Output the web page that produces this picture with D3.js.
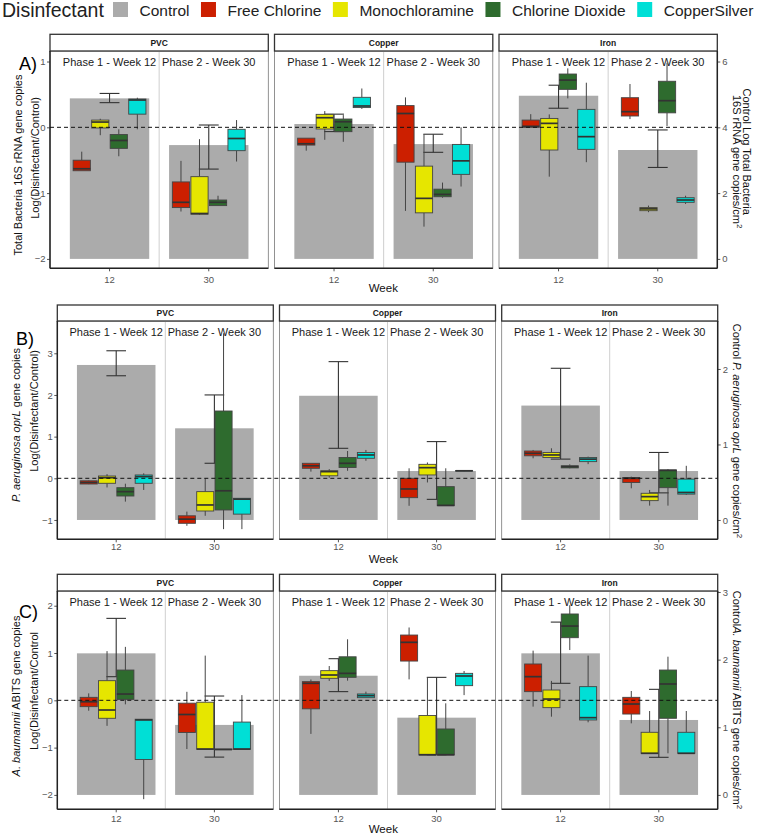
<!DOCTYPE html>
<html><head><meta charset="utf-8">
<script src="https://cdn.jsdelivr.net/npm/d3@7"></script>
<style>
body{margin:0;background:#fff}
svg{display:block}
text{font-family:"Liberation Sans",Arial,sans-serif}
</style>
</head><body>
<svg id="c" width="758" height="836"></svg>
<script>
// ---------------- data ----------------
const materials = ["PVC", "Copper", "Iron"];
const weeks = ["12", "30"];
const phaseLabels = ["Phase 1 - Week 12", "Phase 2 - Week 30"];
const disinfectants = ["Free Chlorine", "Monochloramine", "Chlorine Dioxide", "CopperSilver"];
const legendTitle = "Disinfectant";
const legendLabels = ["Control", "Free Chlorine", "Monochloramine", "Chlorine Dioxide", "CopperSilver"];
const fillColors = ["#ababab", "#cc1f00", "#e6e600", "#2e6b2e", "#00dfd6"];
const panelLetters = ["A)", "B)", "C)"];
const xTitle = "Week";

// Control (right axis units): [mean, lower, upper] per material, per week
const controlA = [
  [[4.88, 4.75, 5.03], [3.46, 2.73, 4.07]],
  [[4.10, 3.87, 4.40], [3.49, 3.24, 3.79]],
  [[4.96, 4.58, 5.28], [3.31, 2.78, 3.92]]
];
const controlB = [
  [[2.053, 1.910, 2.241], [1.214, 0.751, 1.656]],
  [[1.645, 0.949, 2.097], [0.648, 0.273, 1.038]],
  [[1.515, 0.806, 2.009], [0.648, 0.359, 0.894]]
];
const controlC = [
  [[2.093, 1.748, 2.610], [1.035, 0.559, 1.462]],
  [[1.762, 1.527, 2.014], [1.142, 0.594, 1.738]],
  [[2.093, 1.650, 2.555], [1.108, 0.556, 1.561]]
];

// Boxplots Log(Disinfectant/Control): [min, q1, median, q3, max]
// order: material -> week -> disinfectant
const boxesA = [
  [ // PVC
    [[-0.66,-0.66,-0.63,-0.50,-0.37], [-0.12,-0.01,0.08,0.11,0.13], [-0.44,-0.32,-0.20,-0.11,-0.03], [-0.03,0.20,0.415,0.43,0.45]],
    [[-1.28,-1.22,-1.14,-0.83,-0.51], [-1.33,-1.32,-1.31,-0.75,-0.18], [-1.19,-1.19,-1.14,-1.105,-1.04], [-0.52,-0.355,-0.17,-0.03,0.11]]
  ],
  [ // Copper
    [[-0.355,-0.27,-0.25,-0.165,-0.165], [-0.19,-0.026,0.146,0.197,0.247], [-0.22,-0.066,0.085,0.126,0.186], [0.28,0.30,0.324,0.456,0.59]],
    [[-1.27,-0.53,0.21,0.33,0.455], [-1.51,-1.30,-1.08,-0.59,-0.107], [-1.07,-1.055,-1.02,-0.94,-0.84], [-0.90,-0.715,-0.51,-0.26,0.0]]
  ],
  [ // Iron
    [[0.0,0.0,0.015,0.11,0.20], [-0.75,-0.345,0.06,0.135,0.196], [0.44,0.577,0.718,0.81,0.896], [-0.53,-0.335,-0.142,0.273,0.678]],
    [[0.125,0.172,0.238,0.45,0.658], [-1.29,-1.267,-1.24,-1.22,-1.19], [0.02,0.22,0.405,0.70,0.98], [-1.165,-1.14,-1.105,-1.07,-1.04]]
  ]
];
const boxesB = [
  [
    [[-0.14,-0.137,-0.10,-0.06,-0.05], [-0.22,-0.12,0.015,0.055,0.10], [-0.56,-0.425,-0.32,-0.225,-0.13], [-0.28,-0.12,0.04,0.08,0.12]],
    [[-1.14,-1.08,-0.98,-0.90,-0.80], [-0.90,-0.785,-0.64,-0.32,0.0], [-1.22,-0.76,-0.30,1.615,3.48], [-1.22,-0.86,-0.50,-0.48,-0.48]]
  ],
  [
    [[0.16,0.24,0.30,0.36,0.36], [0.015,0.06,0.16,0.18,0.22], [0.18,0.26,0.36,0.50,0.655], [0.42,0.48,0.56,0.62,0.68]],
    [[-0.66,-0.465,-0.256,0.0,0.24], [-0.10,0.08,0.255,0.335,0.38], [-0.656,-0.656,-0.65,-0.20,0.24], [0.17,0.175,0.18,0.185,0.19]]
  ],
  [
    [[0.48,0.54,0.60,0.655,0.68], [0.50,0.50,0.56,0.62,0.72], [0.24,0.25,0.28,0.30,0.335], [0.34,0.40,0.46,0.50,0.52]],
    [[-0.24,-0.10,0.0,0.02,0.04], [-0.656,-0.536,-0.44,-0.36,-0.28], [-0.656,-0.225,0.19,0.20,0.22], [-0.40,-0.38,-0.34,-0.02,0.30]]
  ]
];
const boxesC = [
  [
    [[-0.22,-0.134,-0.03,0.063,0.147], [-0.54,-0.38,-0.205,0.415,1.04], [-0.085,0.02,0.133,0.64,1.13], [-2.09,-1.25,-0.415,-0.40,-0.40]],
    [[-1.03,-0.68,-0.30,-0.06,0.18], [-1.035,-1.035,-1.03,-0.04,0.945], [-1.04,-1.04,-1.04,-1.03,-1.03], [-1.035,-1.035,-1.03,-0.46,0.11]]
  ],
  [
    [[-0.71,-0.18,0.36,0.395,0.44], [0.41,0.465,0.535,0.627,0.725], [0.415,0.486,0.57,0.92,1.29], [0.056,0.056,0.098,0.134,0.183]],
    [[0.443,0.83,1.226,1.38,1.54], [-1.155,-1.155,-1.15,-0.32,0.486], [-1.155,-1.155,-1.15,-0.606,-0.064], [0.11,0.31,0.514,0.57,0.62]]
  ],
  [
    [[-0.134,0.183,0.50,0.768,1.05], [-0.346,-0.155,0.027,0.218,0.41], [1.063,1.324,1.57,1.825,2.01], [-0.465,-0.416,-0.367,0.289,0.945]],
    [[-0.487,-0.29,-0.078,0.063,0.197], [-1.12,-1.12,-1.12,-0.676,-0.226], [-1.12,-0.38,0.345,0.64,0.922], [-1.12,-1.12,-1.12,-0.676,-0.226]]
  ]
];

const leftTicksA = [-2, -1, 0, 1], rightTicksA = [0, 2, 4, 6];
const leftTicksB = [-1, 0, 1, 2, 3], rightTicksB = [0, 1, 2];
const leftTicksC = [-2, -1, 0, 1, 2], rightTicksC = [0, 1, 2, 3];

// axis titles as [text, style] segments (n = normal, i = italic, s = superscript)
const leftTitleA = [[["Total Bacteria 16S rRNA gene copies","n"]], [["Log(Disinfectant/Control)","n"]]];
const rightTitleA = [[["Control Log Total Bacteria","n"]], [["16S rRNA gene copies/cm","n"],["2","s"]]];
const leftTitleB = [[["P. aeruginosa oprL","i"],[" gene copies","n"]], [["Log(Disinfectant/Control)","n"]]];
const rightTitleB = [[["Control ","n"],["P. aeruginosa oprL","i"],[" gene copies/cm","n"],["2","s"]]];
const leftTitleC = [[["A. baumannii","i"],[" ABITS gene copies","n"]], [["Log(Disinfectant/Control","n"]]];
const rightTitleC = [[["Control","n"],["A. baumannii","i"],[" ABITS gene copies/cm","n"],["2","s"]]];

// ---------------- layout ----------------
const svg = d3.select("#c");
const DARK = "#333333";

const figs = [
  { letter: panelLetters[0], letterPos: [19, 70], lefts: [50, 274.5, 499], width: 218.3,
    top: 51, bottom: 268.3, stripTop: 34.3, leftDomain: [-2.143, 1.16],
    toLeft: r => (r - 4) / 2, leftTicks: leftTicksA, rightTicks: rightTicksA,
    control: controlA, boxes: boxesA, xLabelCenter: 279.5, weekCenter: 288.3,
    leftTitle: leftTitleA, leftTitlePos: [[22, 165], [39, 158]],
    rightTitle: rightTitleA, rightTitlePos: [[743, 151.7], [733, 161.7]] },
  { letter: panelLetters[1], letterPos: [16, 345], lefts: [57.3, 279.5, 501.7], width: 216,
    top: 321, bottom: 539.3, stripTop: 305, leftDomain: [-1.464, 3.775],
    toLeft: r => 1.812 * r - 1, leftTicks: leftTicksB, rightTicks: rightTicksB,
    control: controlB, boxes: boxesB, xLabelCenter: 546.7, weekCenter: 559.3,
    leftTitle: leftTitleB, leftTitlePos: [[19.5, 425], [37.5, 411]],
    rightTitle: rightTitleB, rightTitlePos: [[733, 431]] },
  { letter: panelLetters[2], letterPos: [19, 618], lefts: [57.3, 279.5, 501.7], width: 216,
    top: 591, bottom: 809.3, stripTop: 574.3, leftDomain: [-2.304, 2.311],
    toLeft: r => 1.43 * r - 2, leftTicks: leftTicksC, rightTicks: rightTicksC,
    control: controlC, boxes: boxesC, xLabelCenter: 818.3, weekCenter: 829.3,
    leftTitle: leftTitleC, leftTitlePos: [[19.5, 696], [37.5, 691]],
    rightTitle: rightTitleC, rightTitlePos: [[733, 700]] }
];

function addSegments(textSel, segs) {
  segs.forEach(([t, st]) => {
    const ts = textSel.append("tspan").text(t);
    if (st === "i") ts.attr("font-style", "italic");
    if (st === "s") ts.attr("font-size", 8).attr("dy", -4);
  });
}

// ---------------- legend ----------------
const leg = svg.append("g");
leg.append("text").attr("x", 2).attr("y", 17).attr("font-size", 19.5).attr("fill", "#222").text(legendTitle);
let lx = 113;
legendLabels.forEach((lab, i) => {
  leg.append("rect").attr("x", lx).attr("y", 2).attr("width", 15).attr("height", 15).attr("fill", fillColors[i]);
  const t = leg.append("text").attr("x", lx + 26.5).attr("y", 15.5).attr("font-size", 15.5).attr("fill", "#222").text(lab);
  lx = lx + 26.5 + t.node().getComputedTextLength() + 11.5;
});

// ---------------- figures ----------------
figs.forEach(f => {
  const g = svg.append("g");
  const y = d3.scaleLinear().domain(f.leftDomain).range([f.bottom, f.top]);
  const yR = d3.scaleLinear().domain(f.leftDomain.map(v => v)).range([f.bottom, f.top]);
  const yRight = v => y(f.toLeft(v));
  const h = f.bottom - f.top;

  materials.forEach((mat, mi) => {
    const x0 = f.lefts[mi];
    const x = d3.scaleBand().domain(weeks).range([x0, x0 + f.width]).paddingInner(0).paddingOuter(0.1);
    const step = x.step();
    const dodge = d3.scaleBand().domain(disinfectants).range([-0.38 * step, 0.38 * step]).padding(0.07);
    const pg = g.append("g");

    // panel background & frame
    pg.append("rect").attr("x", x0).attr("y", f.top).attr("width", f.width).attr("height", h)
      .attr("fill", "#fff").attr("stroke", "#777").attr("stroke-width", 0.8);
    // separator between phases
    pg.append("line").attr("x1", x0 + f.width / 2).attr("x2", x0 + f.width / 2)
      .attr("y1", f.top).attr("y2", f.bottom).attr("stroke", "#cfcfcf").attr("stroke-width", 1);

    weeks.forEach((wk, wi) => {
      const cx = x(wk) + step / 2;
      const [mean, lo, hi] = f.control[mi][wi];
      // control bar (right axis units)
      pg.append("rect").attr("x", cx - 0.4 * step).attr("width", 0.8 * step)
        .attr("y", yRight(mean)).attr("height", yRight(0) - yRight(mean)).attr("fill", fillColors[0]);
      // phase label
      pg.append("text").attr("x", cx).attr("y", f.top + 14.6).attr("text-anchor", "middle")
        .attr("font-size", 11).attr("fill", "#1a1a1a").text(phaseLabels[wi]);
    });

    weeks.forEach((wk, wi) => {
      const cx = x(wk) + step / 2;
      const [mean, lo, hi] = f.control[mi][wi];
      const ew = 0.1 * step;
      const eb = pg.append("g").attr("stroke", DARK).attr("stroke-width", 1.1);
      eb.append("line").attr("x1", cx).attr("x2", cx).attr("y1", yRight(lo)).attr("y2", yRight(hi));
      eb.append("line").attr("x1", cx - ew).attr("x2", cx + ew).attr("y1", yRight(lo)).attr("y2", yRight(lo));
      eb.append("line").attr("x1", cx - ew).attr("x2", cx + ew).attr("y1", yRight(hi)).attr("y2", yRight(hi));
    });

    weeks.forEach((wk, wi) => {
      const cx0 = x(wk) + step / 2;
      disinfectants.forEach((d, di) => {
        const [mn, q1, md, q3, mx] = f.boxes[mi][wi][di];
        const bx = cx0 + dodge(d);
        const bw = dodge.bandwidth();
        const cx = bx + bw / 2;
        const bg = pg.append("g");
        bg.append("line").attr("x1", cx).attr("x2", cx).attr("y1", y(mx)).attr("y2", y(q3))
          .attr("stroke", "#444").attr("stroke-width", 1);
        bg.append("line").attr("x1", cx).attr("x2", cx).attr("y1", y(q1)).attr("y2", y(mn))
          .attr("stroke", "#444").attr("stroke-width", 1);
        bg.append("rect").attr("x", bx).attr("width", bw).attr("y", y(q3))
          .attr("height", Math.max(0.5, y(q1) - y(q3))).attr("fill", fillColors[di + 1])
          .attr("stroke", "#444").attr("stroke-width", 0.9);
        bg.append("line").attr("x1", bx).attr("x2", bx + bw).attr("y1", y(md)).attr("y2", y(md))
          .attr("stroke", DARK).attr("stroke-width", 1.7);
      });
    });

    // strip
    pg.append("rect").attr("x", x0).attr("y", f.stripTop).attr("width", f.width).attr("height", f.top - f.stripTop)
      .attr("fill", "#fff").attr("stroke", DARK).attr("stroke-width", 1.3);
    pg.append("text").attr("x", x0 + f.width / 2).attr("y", (f.stripTop + f.top) / 2 + 3)
      .attr("text-anchor", "middle").attr("font-size", 8.5).attr("font-weight", "bold").attr("fill", "#1a1a1a").text(mat);

    // bottom axis
    const fs = 9.5, tsz = 3;
    const pad = Math.max(0.5, (f.xLabelCenter - f.bottom) - 0.36 * fs - tsz);
    const xa = pg.append("g").attr("transform", `translate(0,${f.bottom})`)
      .call(d3.axisBottom(x).tickSize(tsz).tickPadding(pad));
    xa.select(".domain").remove();
    xa.selectAll("line").attr("stroke", "#555");
    xa.selectAll("text").attr("font-size", fs).attr("fill", "#555").attr("font-family", "Liberation Sans, Arial, sans-serif");
    pg.append("line").attr("x1", x0).attr("x2", x0 + f.width).attr("y1", f.bottom).attr("y2", f.bottom)
      .attr("stroke", "#222").attr("stroke-width", 1.5);

    if (mi === 0) {
      const ya = pg.append("g").attr("transform", `translate(${x0},0)`)
        .call(d3.axisLeft(y).tickValues(f.leftTicks).tickSize(3).tickPadding(1.5).tickFormat(d3.format("d")));
      ya.select(".domain").remove();
      ya.selectAll("line").attr("stroke", "#555");
      ya.selectAll("text").attr("font-size", fs).attr("fill", "#555").attr("font-family", "Liberation Sans, Arial, sans-serif");
      pg.append("line").attr("x1", x0).attr("x2", x0).attr("y1", f.top).attr("y2", f.bottom)
        .attr("stroke", "#222").attr("stroke-width", 1.5);
    }
    if (mi === materials.length - 1) {
      const rDomain = f.leftDomain.map(v => {
        // invert toLeft linearly
        const a = f.toLeft(1) - f.toLeft(0), b = f.toLeft(0);
        return (v - b) / a;
      });
      const ry = d3.scaleLinear().domain(rDomain).range([f.bottom, f.top]);
      const xr = x0 + f.width;
      const ra = pg.append("g").attr("transform", `translate(${xr},0)`)
        .call(d3.axisRight(ry).tickValues(f.rightTicks).tickSize(3).tickPadding(2).tickFormat(d3.format("d")));
      ra.select(".domain").remove();
      ra.selectAll("line").attr("stroke", "#555");
      ra.selectAll("text").attr("font-size", fs).attr("fill", "#555").attr("font-family", "Liberation Sans, Arial, sans-serif");
      pg.append("line").attr("x1", xr).attr("x2", xr).attr("y1", f.top).attr("y2", f.bottom)
        .attr("stroke", "#222").attr("stroke-width", 1.5);
    }
  });

  // dashed reference line at 0
  g.append("line").attr("x1", f.lefts[0]).attr("x2", f.lefts[2] + f.width)
    .attr("y1", y(0)).attr("y2", y(0)).attr("stroke", "#111").attr("stroke-width", 1)
    .attr("stroke-dasharray", "4,3");

  // titles
  f.leftTitle.forEach((segs, i) => {
    const [tx, ty] = f.leftTitlePos[i];
    const t = g.append("text").attr("transform", `translate(${tx},${ty}) rotate(-90)`)
      .attr("text-anchor", "middle").attr("font-size", 11).attr("fill", "#111");
    addSegments(t, segs);
  });
  f.rightTitle.forEach((segs, i) => {
    const [tx, ty] = f.rightTitlePos[i];
    const t = g.append("text").attr("transform", `translate(${tx},${ty}) rotate(90)`)
      .attr("text-anchor", "middle").attr("font-size", 11).attr("fill", "#111");
    addSegments(t, segs);
  });
  g.append("text").attr("x", 383.3).attr("y", f.weekCenter + 4).attr("text-anchor", "middle")
    .attr("font-size", 11.5).attr("fill", "#111").text(xTitle);
  g.append("text").attr("x", f.letterPos[0]).attr("y", f.letterPos[1])
    .attr("font-size", 18).attr("fill", "#000").text(f.letter);
});
</script>
</body></html>
